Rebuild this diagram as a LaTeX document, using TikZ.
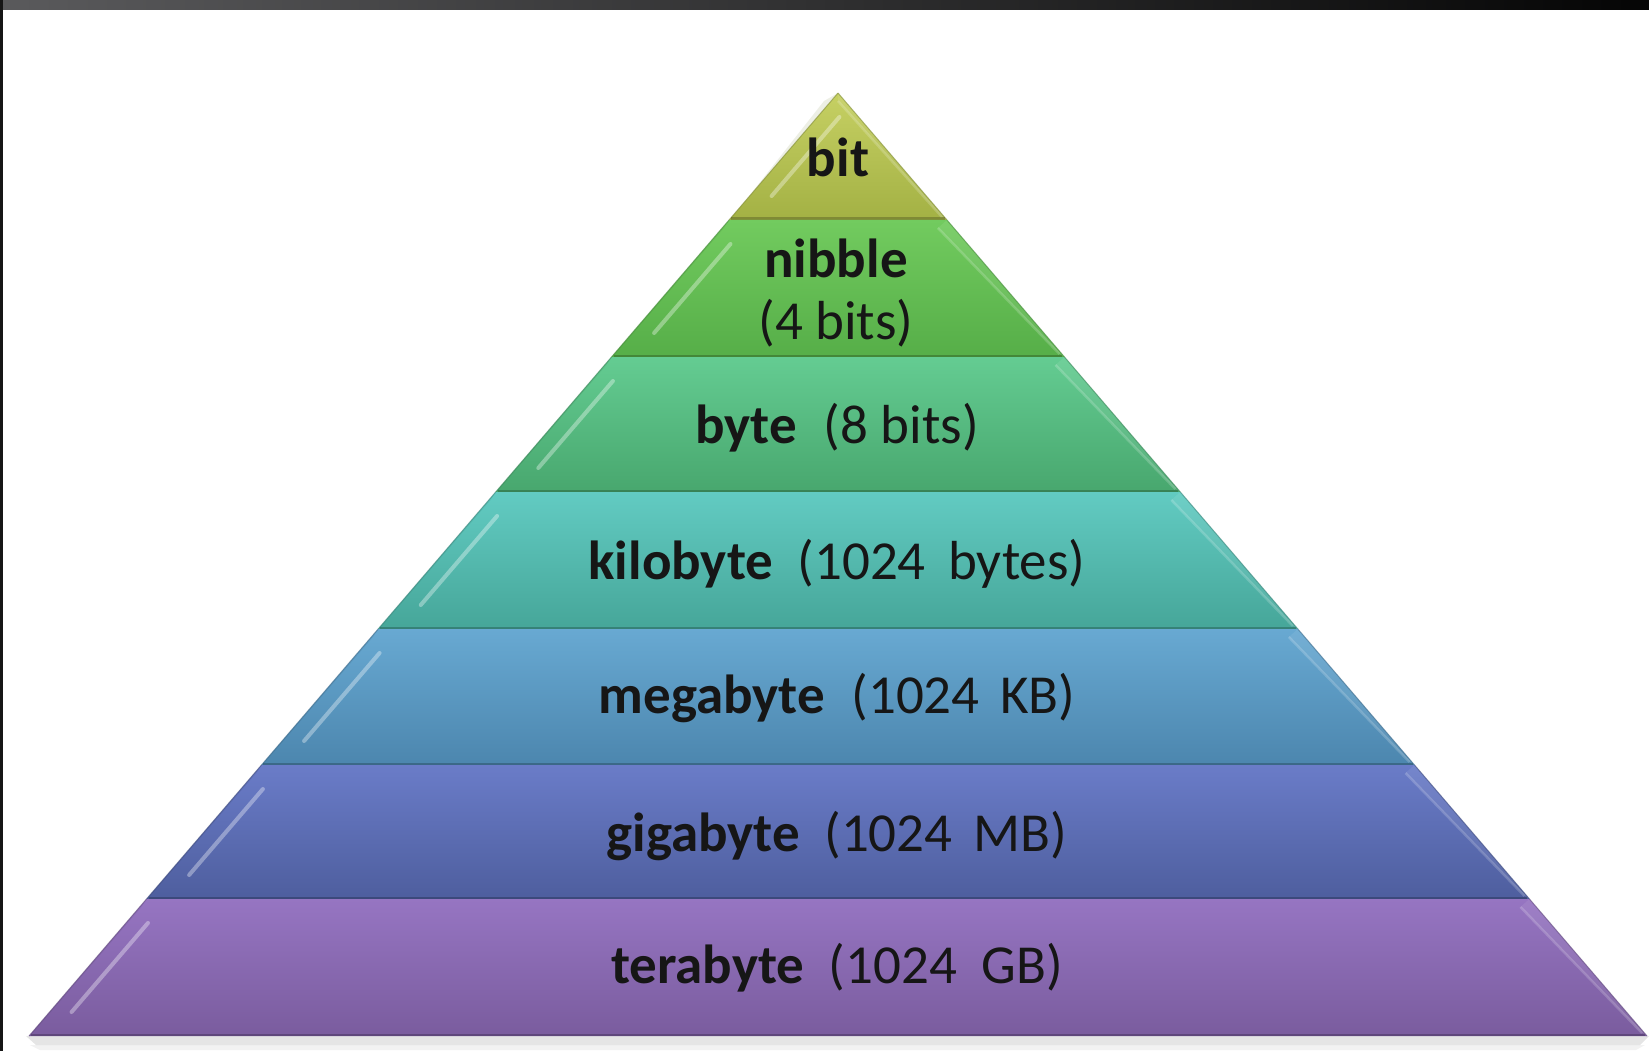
\documentclass[tikz,border=0pt]{standalone}
\usepackage{fontspec}
\setmainfont{Carlito}
\definecolor{bitT}{HTML}{C6D063}
\definecolor{bitB}{HTML}{A3B144}
\definecolor{nibT}{HTML}{72CB5F}
\definecolor{nibB}{HTML}{56AE48}
\definecolor{byteT}{HTML}{64CC92}
\definecolor{byteB}{HTML}{48A76E}
\definecolor{kbT}{HTML}{62CBC2}
\definecolor{kbB}{HTML}{46A699}
\definecolor{mbT}{HTML}{68A9D2}
\definecolor{mbB}{HTML}{4C86AE}
\definecolor{gbT}{HTML}{6A7CC8}
\definecolor{gbB}{HTML}{4E5E9E}
\definecolor{tbT}{HTML}{9675C2}
\definecolor{tbB}{HTML}{7A5C9E}
\definecolor{textdark}{HTML}{161616}
\definecolor{frameA}{HTML}{5A5A5C}
\definecolor{frameB}{HTML}{050505}
\tikzset{
  lbl/.style={anchor=base, inner sep=0pt, text=textdark, font=\fontsize{55}{60}\selectfont},
  streak/.style={line cap=round, line width=4pt, white, opacity=0.35},
  rbevel/.style={line width=2.5pt, white, opacity=0.18},
  sepline/.style={line width=2.5pt, black, opacity=0.22}
}
\begin{document}
\begin{tikzpicture}[x=1pt,y=-1pt]
\useasboundingbox (0,0) rectangle (1649,1051);
\fill[white] (0,0) rectangle (1649,1051);
% frame
\shade[left color=frameA, right color=frameB] (0,0) rectangle (1649,10);
\fill[frameB!80!frameA] (0,0) rectangle (3,1051);
\def\cx{838}
\def\s{0.8579}
% base shadow
\fill[black, opacity=0.10] (26,1036) -- (1649,1036) -- (1640,1045) -- (36,1045) -- cycle;
\fill[black, opacity=0.05] (30,1045) -- (1645,1045) -- (1636,1050) -- (40,1050) -- cycle;
\foreach \ya/\yb/\ct/\cb in {93/220/bitT/bitB, 220/357/nibT/nibB, 357/492/byteT/byteB, 492/629/kbT/kbB, 629/765/mbT/mbB, 765/899/gbT/gbB, 899/1036/tbT/tbB} {
  \pgfmathsetmacro\ha{(\ya-93)*\s}
  \pgfmathsetmacro\hb{(\yb-93)*\s}
  \pgfmathsetmacro\hi{max(\ha-9,0)}
  \shade[top color=\ct, bottom color=\cb] (\cx-\ha,\ya) -- (\cx+\ha,\ya) -- (\cx+\hb,\yb) -- (\cx-\hb,\yb) -- cycle;
  % left bevel facet
  \fill[\cb!70!black, opacity=0.12] (\cx-\ha,\ya) -- (\cx-\hi-14,\ya+8) -- (\cx-\hb+2,\yb-1) -- (\cx-\hb,\yb) -- cycle;
  % right bevel facet
  \fill[white, opacity=0.08] (\cx+\ha,\ya) -- (\cx+\hi,\ya+8) -- (\cx+\hb-4,\yb-2) -- (\cx+\hb,\yb) -- cycle;
  \draw[rbevel] (\cx+\hi,\ya+8) -- (\cx+\hb-5,\yb-3);
  % left highlight streak
  \pgfmathsetmacro\ys{\ya+24}
  \pgfmathsetmacro\ye{\yb-24}
  \pgfmathsetmacro\xs{\cx-(\ys-93)*\s+22}
  \pgfmathsetmacro\xe{\cx-(\ye-93)*\s+22}
  \draw[streak] (\xs,\ys) -- (\xe,\ye);
  % outer edge
  \draw[\cb!80!black, line width=1pt, opacity=0.6] (\cx-\ha,\ya) -- (\cx-\hb,\yb);
  \draw[\cb!80!black, line width=1pt, opacity=0.6] (\cx+\ha,\ya) -- (\cx+\hb,\yb);
  % bottom separator
  \draw[sepline] (\cx-\hb+2,\yb-1.25) -- (\cx+\hb-2,\yb-1.25);
}
% labels
\node[lbl] (bit) at (838,177) {\textbf{bit}};
\node[lbl] (nibble) at (836,277) {\textbf{nibble}};
\node[lbl] (nibblesz) at (836,339) {(4 bits)};
\node[lbl] (byte) at (837,443) {\textbf{byte}\hspace{27pt}(8 bits)};
\node[lbl] (kilobyte) at (837,579) {\textbf{kilobyte}\hspace{12pt} (1024\hspace{10pt} bytes)};
\node[lbl] (megabyte) at (837,713) {\textbf{megabyte}\hspace{14pt} (1024\hspace{8pt} KB)};
\node[lbl] (gigabyte) at (837,851) {\textbf{gigabyte}\hspace{12pt} (1024\hspace{9pt} MB)};
\node[lbl] (terabyte) at (837,983) {\textbf{terabyte}\hspace{12pt} (1024\hspace{12pt} GB)};
\end{tikzpicture}
\end{document}
